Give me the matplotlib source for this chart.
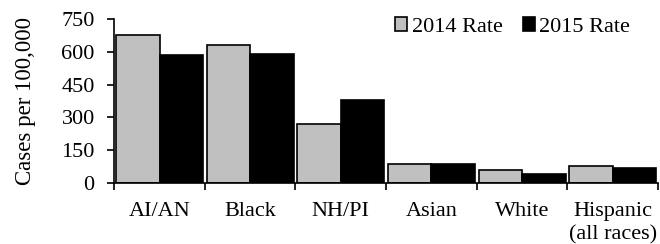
import matplotlib
matplotlib.use("Agg")
import matplotlib.pyplot as plt
import numpy as np

categories = ["AI/AN", "Black", "NH/PI", "Asian", "White", "Hispanic\n(all races)"]
rate_2014 = [678, 632, 270, 85, 59, 79]
rate_2015 = [585, 588, 380, 88, 42, 70]
yticks = [0, 150, 300, 450, 600, 750]

plt.rcParams['font.family'] = ['Liberation Serif', 'DejaVu Serif']
plt.rcParams['font.size'] = 16

fig = plt.figure(figsize=(6.6, 2.44), dpi=100)
ax = fig.add_axes([0.173, 0.25, 0.824, 0.672])

x = np.arange(len(categories))
w = 0.48
ax.bar(x - w / 2, rate_2014, w, color="#c0c0c0", edgecolor="black", linewidth=1.2, label="2014 Rate")
ax.bar(x + w / 2, rate_2015, w, color="black", edgecolor="black", linewidth=1.2, label="2015 Rate")

ax.set_xlim(-0.5, len(categories) - 0.5)
ax.set_ylim(0, 750)
ax.set_yticks(yticks)
ax.set_xticks(x)
ax.set_xticklabels(categories, linespacing=1.25, va="top")
ax.set_xticks(np.arange(len(categories) + 1) - 0.5, minor=True)
ax.tick_params(axis="x", which="major", length=0, pad=14)
ax.tick_params(axis="x", which="minor", length=5, width=1.2, direction="out")
ax.tick_params(axis="y", length=5, width=1.2, direction="out", pad=9)
ax.set_ylabel("Cases per 100,000", fontsize=16.5, labelpad=18)

for s in ["top", "right"]:
    ax.spines[s].set_visible(False)
for s in ["left", "bottom"]:
    ax.spines[s].set_linewidth(1.2)

ax.legend(loc="center right", bbox_to_anchor=(0.965, 0.951), ncol=2, frameon=False,
          handlelength=0.55, handleheight=0.55, handletextpad=0.2, columnspacing=0.9,
          borderaxespad=0)

fig.savefig("out.png", dpi=100)
